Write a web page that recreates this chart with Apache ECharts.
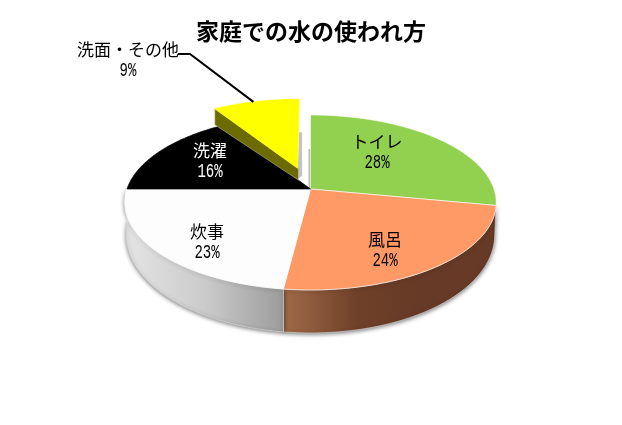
<!DOCTYPE html>
<html><head><meta charset="utf-8">
<style>html,body{margin:0;padding:0;background:#fff}#c{width:622px;height:425px}</style>
<script src="https://cdn.jsdelivr.net/npm/echarts@6/dist/echarts.min.js"></script>
</head><body><div id="c"></div>
<script>
const titleText = '家庭での水の使われ方';
const categories = ['トイレ', '風呂', '炊事', '洗濯', '洗面・その他'];
const shares = [28, 24, 23, 16, 9];
const percentLabels = ['28%', '24%', '23%', '16%', '9%'];
const faceColors = ['#92d050', '#ff9966', '#fdfdfd', '#000000', '#ffff00'];
const labelColors = ['#000', '#000', '#000', '#fff', '#000'];

// layout (perspective projection of the pie disc)
const P = {x0: 310.5, y0: 189, B: 183.5, A: 85.4, k: 0.154, explode: 0.265};
const labelPos = [[377, 142], [385, 240], [207, 232], [210, 151], [128, 50]];
const total = shares.reduce((a, b) => a + b, 0);

function proj(u, v) {
  const w = 1 - P.k * v;
  return [P.x0 + P.B * u / w, P.y0 + P.A * v / w];
}
function rim(deg, ou, ov) {
  const r = deg * Math.PI / 180;
  return proj(Math.sin(r) + (ou || 0), -Math.cos(r) + (ov || 0));
}
function depth(deg) { return 30 - 13 * Math.cos(deg * Math.PI / 180); }
function arc(a0, a1, ou, ov) {
  const pts = [], n = Math.max(2, Math.ceil(Math.abs(a1 - a0)));
  for (let i = 0; i <= n; i++) pts.push(rim(a0 + (a1 - a0) * i / n, ou, ov));
  return pts;
}
function sidePts(a0, a1) {
  const top = [], bot = [], n = Math.max(2, Math.ceil(a1 - a0));
  for (let i = 0; i <= n; i++) {
    const a = a0 + (a1 - a0) * i / n, p = rim(a);
    top.push(p);
    bot.unshift([P.x0 + (p[0] - P.x0) * 0.992, p[1] + depth(a)]);
  }
  return top.concat(bot);
}
const grad = (x0, x1, stops) => new echarts.graphic.LinearGradient(x0, 0, x1, 0,
  stops.map(s => ({offset: s[0], color: s[1]})), true);
const txt = (s, x, y, fill, font, z2) => ({type: 'text', z2,
  style: {text: s, x, y, fill, font, align: 'center', verticalAlign: 'middle'}});

function renderItem(params, api) {
  const i = params.dataIndex, val = api.value(0);
  let before = 0;
  for (let j = 0; j < i; j++) before += shares[j];
  const a0 = before / total * 360, a1 = (before + val) / total * 360;
  const mid = (a0 + a1) / 2 * Math.PI / 180;
  const exploded = i === shares.length - 1;
  const ou = exploded ? Math.sin(mid) * P.explode : 0;
  const ov = exploded ? -Math.cos(mid) * P.explode : 0;
  const apex = proj(ou, ov);
  const ch = [];
  const base = exploded ? 6 : 3;
  if (i === 1) ch.push({type: 'polygon', z2: 1, shape: {points: sidePts(a0, a1)},
    style: {fill: grad(284, 420, [[0, '#a06a48'], [0.55, '#6e4029'], [1, '#663a26']]),
      stroke: '#ddd', lineWidth: 0.6, shadowBlur: 4, shadowColor: 'rgba(0,0,0,.55)', shadowOffsetY: 1}});
  if (i === 2) ch.push({type: 'polygon', z2: 1, shape: {points: sidePts(a0, a1)},
    style: {fill: grad(125, 284, [[0, '#e4e4e4'], [0.5, '#cbcbcb'], [1, '#9c9c9c']]),
      stroke: '#ddd', lineWidth: 0.6, shadowBlur: 4, shadowColor: 'rgba(0,0,0,.55)', shadowOffsetY: 1}});
  if (i === 0) {
    // inner wall showing beside the first slice
    ch.push({type: 'polygon', z2: 1, shape: {points: [[apex[0] - 2, apex[1]], [apex[0] + 1, apex[1]], [apex[0] + 1, apex[1] - 40], [apex[0] - 2, apex[1] - 40]]},
      style: {fill: '#bdbdbd'}});
  }
  if (exploded) {
    const R = rim(a1, ou, ov), L = rim(a0, ou, ov);
    ch.push({type: 'polygon', z2: base - 1, shape: {points: [[R[0], R[1] + 33], [R[0] + 3, R[1] + 33], [R[0] + 3, apex[1] + 8], [apex[0], apex[1] + 11]]},
      style: {fill: '#c4c4c4'}});
    ch.push({type: 'polygon', z2: base, shape: {points: [L, apex, [apex[0] + 1, apex[1]], [apex[0] + 1, apex[1] + 12], [L[0], L[1] + 16]]},
      style: {fill: '#6b6b00', stroke: '#d8d8c0', lineWidth: 0.5}});
    // leader line
    const hit = rim(a0 + (a1 - a0) * 0.47, ou, ov);
    ch.push({type: 'polyline', z2: 8, shape: {points: [[178, 54], [190, 54], hit]},
      style: {stroke: '#000', lineWidth: 2, fill: 'none'}});
  }
  ch.push({type: 'polygon', z2: base + 1, shape: {points: [apex].concat(arc(a0, a1, ou, ov))},
    style: {fill: faceColors[i], stroke: i < 3 ? 'rgba(255,255,255,.85)' : faceColors[i], lineWidth: 0.7}});
  const lp = labelPos[i];
  ch.push(txt(categories[i], lp[0], lp[1], labelColors[i], '17px "Noto Sans CJK JP"', 10));
  ch.push({type: 'text', z2: 10, x: lp[0], y: lp[1] + 21, scaleX: 0.7,
    style: {text: percentLabels[i], x: 0, y: 0, fill: labelColors[i], font: '20px "Liberation Mono"', align: 'center', verticalAlign: 'middle'}});
  return {type: 'group', children: ch};
}

const chart = echarts.init(document.getElementById('c'), null, {renderer: 'canvas'});
chart.setOption({
  animation: false,
  backgroundColor: '#fff',
  title: {text: titleText, left: 191, top: 15,
    textStyle: {fontFamily: '"Noto Sans CJK JP"', fontSize: 23, fontWeight: 'bold', color: '#000'}},
  series: [{
    type: 'custom', coordinateSystem: 'none', silent: true, renderItem,
    data: shares.map((s, i) => ({name: categories[i], value: [s]}))
  }]
});
</script></body></html>
